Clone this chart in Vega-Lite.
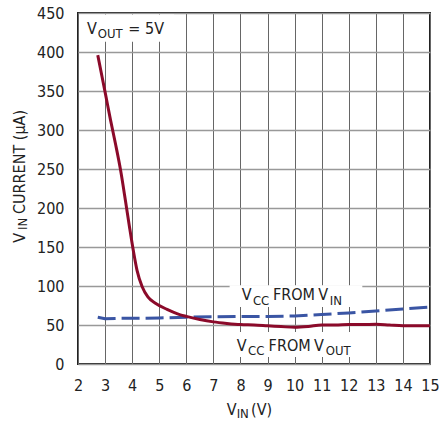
{
  "$schema": "https://vega.github.io/schema/vega-lite/v6.json",
  "width": 352,
  "height": 351,
  "autosize": "none",
  "padding": {"left": 78, "top": 13, "right": 9, "bottom": 59},
  "background": "white",
  "data": {"values": [{}]},
  "config": {
    "font": "DejaVu Sans Condensed, Liberation Sans",
    "view": {"stroke": "#222", "strokeWidth": 2},
    "axis": {"labelFont": "DejaVu Sans Condensed, Liberation Sans", "labelFontSize": 16, "labelColor": "#222", "labelOverlap": false, "labelFlush": false, "domain": false, "ticks": false, "tickSize": 0, "title": null},
    "axisX": {"labelPadding": 13, "gridColor": "#666", "gridWidth": 1, "gridOpacity": 1},
    "axisY": {"labelPadding": 14, "labelBaseline": "middle", "gridColor": "#999", "gridWidth": 1.5, "gridOpacity": 1},
    "text": {"font": "DejaVu Sans Condensed, Liberation Sans", "color": "#222", "align": "left", "baseline": "alphabetic"}
  },
  "datasets": {
    "curves": [
      {"vin": 2.73, "current": 396, "series": "VCC FROM VOUT"},
      {"vin": 2.89, "current": 368, "series": "VCC FROM VOUT"},
      {"vin": 3.01, "current": 347, "series": "VCC FROM VOUT"},
      {"vin": 3.2, "current": 313, "series": "VCC FROM VOUT"},
      {"vin": 3.38, "current": 283, "series": "VCC FROM VOUT"},
      {"vin": 3.57, "current": 249, "series": "VCC FROM VOUT"},
      {"vin": 3.75, "current": 210, "series": "VCC FROM VOUT"},
      {"vin": 3.9, "current": 176, "series": "VCC FROM VOUT"},
      {"vin": 4.04, "current": 146, "series": "VCC FROM VOUT"},
      {"vin": 4.18, "current": 120, "series": "VCC FROM VOUT"},
      {"vin": 4.37, "current": 99, "series": "VCC FROM VOUT"},
      {"vin": 4.58, "current": 86, "series": "VCC FROM VOUT"},
      {"vin": 4.86, "current": 78, "series": "VCC FROM VOUT"},
      {"vin": 5.29, "current": 70, "series": "VCC FROM VOUT"},
      {"vin": 5.78, "current": 63, "series": "VCC FROM VOUT"},
      {"vin": 6.0, "current": 61, "series": "VCC FROM VOUT"},
      {"vin": 6.5, "current": 57, "series": "VCC FROM VOUT"},
      {"vin": 7.0, "current": 54, "series": "VCC FROM VOUT"},
      {"vin": 7.5, "current": 52, "series": "VCC FROM VOUT"},
      {"vin": 8.0, "current": 50.5, "series": "VCC FROM VOUT"},
      {"vin": 8.5, "current": 50, "series": "VCC FROM VOUT"},
      {"vin": 9.0, "current": 49, "series": "VCC FROM VOUT"},
      {"vin": 9.5, "current": 48, "series": "VCC FROM VOUT"},
      {"vin": 10.0, "current": 47, "series": "VCC FROM VOUT"},
      {"vin": 10.5, "current": 48, "series": "VCC FROM VOUT"},
      {"vin": 11.0, "current": 50, "series": "VCC FROM VOUT"},
      {"vin": 11.5, "current": 50, "series": "VCC FROM VOUT"},
      {"vin": 12.0, "current": 50.5, "series": "VCC FROM VOUT"},
      {"vin": 12.5, "current": 50.5, "series": "VCC FROM VOUT"},
      {"vin": 13.0, "current": 51, "series": "VCC FROM VOUT"},
      {"vin": 13.5, "current": 50, "series": "VCC FROM VOUT"},
      {"vin": 14.0, "current": 49, "series": "VCC FROM VOUT"},
      {"vin": 14.5, "current": 49, "series": "VCC FROM VOUT"},
      {"vin": 15.0, "current": 49, "series": "VCC FROM VOUT"},
      {"vin": 2.73, "current": 60, "series": "VCC FROM VIN"},
      {"vin": 3.0, "current": 58, "series": "VCC FROM VIN"},
      {"vin": 3.5, "current": 58.5, "series": "VCC FROM VIN"},
      {"vin": 4.0, "current": 58.5, "series": "VCC FROM VIN"},
      {"vin": 5.0, "current": 59, "series": "VCC FROM VIN"},
      {"vin": 6.0, "current": 60, "series": "VCC FROM VIN"},
      {"vin": 7.0, "current": 60.5, "series": "VCC FROM VIN"},
      {"vin": 8.0, "current": 61, "series": "VCC FROM VIN"},
      {"vin": 9.0, "current": 61, "series": "VCC FROM VIN"},
      {"vin": 10.0, "current": 61.5, "series": "VCC FROM VIN"},
      {"vin": 11.0, "current": 63.5, "series": "VCC FROM VIN"},
      {"vin": 12.0, "current": 65.5, "series": "VCC FROM VIN"},
      {"vin": 13.0, "current": 68, "series": "VCC FROM VIN"},
      {"vin": 14.0, "current": 70.5, "series": "VCC FROM VIN"},
      {"vin": 15.0, "current": 73, "series": "VCC FROM VIN"}
    ]
  },
  "layer": [
    {
      "data": {"name": "curves"},
      "transform": [{"filter": "datum.series === 'VCC FROM VIN'"}],
      "mark": {"type": "line", "color": "#3a55a4", "strokeWidth": 3, "strokeDash": [18, 6]},
      "encoding": {
        "x": {"field": "vin", "type": "quantitative", "scale": {"domain": [2, 15], "nice": false, "zero": false},
          "axis": {"values": [2,3,4,5,6,7,8,9,10,11,12,13,14,15]}},
        "y": {"field": "current", "type": "quantitative", "scale": {"domain": [0, 450], "nice": false},
          "axis": {"values": [0,50,100,150,200,250,300,350,400,450]}}
      }
    },
    {
      "data": {"name": "curves"},
      "transform": [{"filter": "datum.series === 'VCC FROM VOUT'"}],
      "mark": {"type": "line", "color": "#8b0a2a", "strokeWidth": 3, "interpolate": "monotone"},
      "encoding": {
        "x": {"field": "vin", "type": "quantitative", "axis": {"values": [2,3,4,5,6,7,8,9,10,11,12,13,14,15]}},
        "y": {"field": "current", "type": "quantitative", "axis": {"values": [0,50,100,150,200,250,300,350,400,450]}}
      }
    },
    {
      "mark": {"type": "rect", "fill": "white"},
      "encoding": {"x": {"datum": 2.05, "axis": {"values": [2,3,4,5,6,7,8,9,10,11,12,13,14,15]}}, "x2": {"datum": 5.55}, "y": {"datum": 413, "axis": {"values": [0,50,100,150,200,250,300,350,400,450]}}, "y2": {"datum": 448}}
    },
    {
      "mark": {"type": "rect", "fill": "white"},
      "encoding": {"x": {"datum": 7.6, "axis": {"values": [2,3,4,5,6,7,8,9,10,11,12,13,14,15]}}, "x2": {"datum": 12.5}, "y": {"datum": 73, "axis": {"values": [0,50,100,150,200,250,300,350,400,450]}}, "y2": {"datum": 101}}
    },
    {
      "mark": {"type": "rect", "fill": "white"},
      "encoding": {"x": {"datum": 7.6, "axis": {"values": [2,3,4,5,6,7,8,9,10,11,12,13,14,15]}}, "x2": {"datum": 12.5}, "y": {"datum": 9, "axis": {"values": [0,50,100,150,200,250,300,350,400,450]}}, "y2": {"datum": 41}}
    },
    {"mark": {"type": "text", "text": "V", "fontSize": 16}, "encoding": {"x": {"datum": 2.33, "axis": {"values": [2,3,4,5,6,7,8,9,10,11,12,13,14,15]}}, "y": {"datum": 423, "axis": {"values": [0,50,100,150,200,250,300,350,400,450]}}}},
    {"mark": {"type": "text", "text": "OUT", "fontSize": 13}, "encoding": {"x": {"datum": 2.73, "axis": {"values": [2,3,4,5,6,7,8,9,10,11,12,13,14,15]}}, "y": {"datum": 418.5, "axis": {"values": [0,50,100,150,200,250,300,350,400,450]}}}},
    {"mark": {"type": "text", "text": "= 5V", "fontSize": 16}, "encoding": {"x": {"datum": 3.86, "axis": {"values": [2,3,4,5,6,7,8,9,10,11,12,13,14,15]}}, "y": {"datum": 423, "axis": {"values": [0,50,100,150,200,250,300,350,400,450]}}}},

    {"mark": {"type": "text", "text": "V", "fontSize": 16}, "encoding": {"x": {"datum": 8.045, "axis": {"values": [2,3,4,5,6,7,8,9,10,11,12,13,14,15]}}, "y": {"datum": 82, "axis": {"values": [0,50,100,150,200,250,300,350,400,450]}}}},
    {"mark": {"type": "text", "text": "CC", "fontSize": 13}, "encoding": {"x": {"datum": 8.46, "axis": {"values": [2,3,4,5,6,7,8,9,10,11,12,13,14,15]}}, "y": {"datum": 75.6, "axis": {"values": [0,50,100,150,200,250,300,350,400,450]}}}},
    {"mark": {"type": "text", "text": "FROM", "fontSize": 16}, "encoding": {"x": {"datum": 9.2, "axis": {"values": [2,3,4,5,6,7,8,9,10,11,12,13,14,15]}}, "y": {"datum": 82, "axis": {"values": [0,50,100,150,200,250,300,350,400,450]}}}},
    {"mark": {"type": "text", "text": "V", "fontSize": 16}, "encoding": {"x": {"datum": 10.875, "axis": {"values": [2,3,4,5,6,7,8,9,10,11,12,13,14,15]}}, "y": {"datum": 82, "axis": {"values": [0,50,100,150,200,250,300,350,400,450]}}}},
    {"mark": {"type": "text", "text": "IN", "fontSize": 13}, "encoding": {"x": {"datum": 11.3, "axis": {"values": [2,3,4,5,6,7,8,9,10,11,12,13,14,15]}}, "y": {"datum": 75.6, "axis": {"values": [0,50,100,150,200,250,300,350,400,450]}}}},

    {"mark": {"type": "text", "text": "V", "fontSize": 16}, "encoding": {"x": {"datum": 7.86, "axis": {"values": [2,3,4,5,6,7,8,9,10,11,12,13,14,15]}}, "y": {"datum": 16.3, "axis": {"values": [0,50,100,150,200,250,300,350,400,450]}}}},
    {"mark": {"type": "text", "text": "CC", "fontSize": 13}, "encoding": {"x": {"datum": 8.28, "axis": {"values": [2,3,4,5,6,7,8,9,10,11,12,13,14,15]}}, "y": {"datum": 11.5, "axis": {"values": [0,50,100,150,200,250,300,350,400,450]}}}},
    {"mark": {"type": "text", "text": "FROM", "fontSize": 16}, "encoding": {"x": {"datum": 9.04, "axis": {"values": [2,3,4,5,6,7,8,9,10,11,12,13,14,15]}}, "y": {"datum": 16.3, "axis": {"values": [0,50,100,150,200,250,300,350,400,450]}}}},
    {"mark": {"type": "text", "text": "V", "fontSize": 16}, "encoding": {"x": {"datum": 10.716, "axis": {"values": [2,3,4,5,6,7,8,9,10,11,12,13,14,15]}}, "y": {"datum": 16.3, "axis": {"values": [0,50,100,150,200,250,300,350,400,450]}}}},
    {"mark": {"type": "text", "text": "OUT", "fontSize": 13}, "encoding": {"x": {"datum": 11.15, "axis": {"values": [2,3,4,5,6,7,8,9,10,11,12,13,14,15]}}, "y": {"datum": 11.5, "axis": {"values": [0,50,100,150,200,250,300,350,400,450]}}}},

    {"mark": {"type": "text", "text": "V", "fontSize": 16}, "encoding": {"x": {"datum": 7.49, "axis": {"values": [2,3,4,5,6,7,8,9,10,11,12,13,14,15]}}, "y": {"datum": -65.4, "axis": {"values": [0,50,100,150,200,250,300,350,400,450]}}}},
    {"mark": {"type": "text", "text": "IN", "fontSize": 13}, "encoding": {"x": {"datum": 7.86, "axis": {"values": [2,3,4,5,6,7,8,9,10,11,12,13,14,15]}}, "y": {"datum": -69.6, "axis": {"values": [0,50,100,150,200,250,300,350,400,450]}}}},
    {"mark": {"type": "text", "text": "(V)", "fontSize": 16}, "encoding": {"x": {"datum": 8.39, "axis": {"values": [2,3,4,5,6,7,8,9,10,11,12,13,14,15]}}, "y": {"datum": -65.4, "axis": {"values": [0,50,100,150,200,250,300,350,400,450]}}}},

    {"mark": {"type": "text", "text": "V", "fontSize": 16, "angle": 270}, "encoding": {"x": {"datum": 0.043, "axis": {"values": [2,3,4,5,6,7,8,9,10,11,12,13,14,15]}}, "y": {"datum": 155.5, "axis": {"values": [0,50,100,150,200,250,300,350,400,450]}}}},
    {"mark": {"type": "text", "text": "IN", "fontSize": 13, "angle": 270}, "encoding": {"x": {"datum": 0.128, "axis": {"values": [2,3,4,5,6,7,8,9,10,11,12,13,14,15]}}, "y": {"datum": 171.8, "axis": {"values": [0,50,100,150,200,250,300,350,400,450]}}}},
    {"mark": {"type": "text", "text": "CURRENT (µA)", "fontSize": 16, "angle": 270}, "encoding": {"x": {"datum": 0.043, "axis": {"values": [2,3,4,5,6,7,8,9,10,11,12,13,14,15]}}, "y": {"datum": 192.3, "axis": {"values": [0,50,100,150,200,250,300,350,400,450]}}}}
  ]
}
